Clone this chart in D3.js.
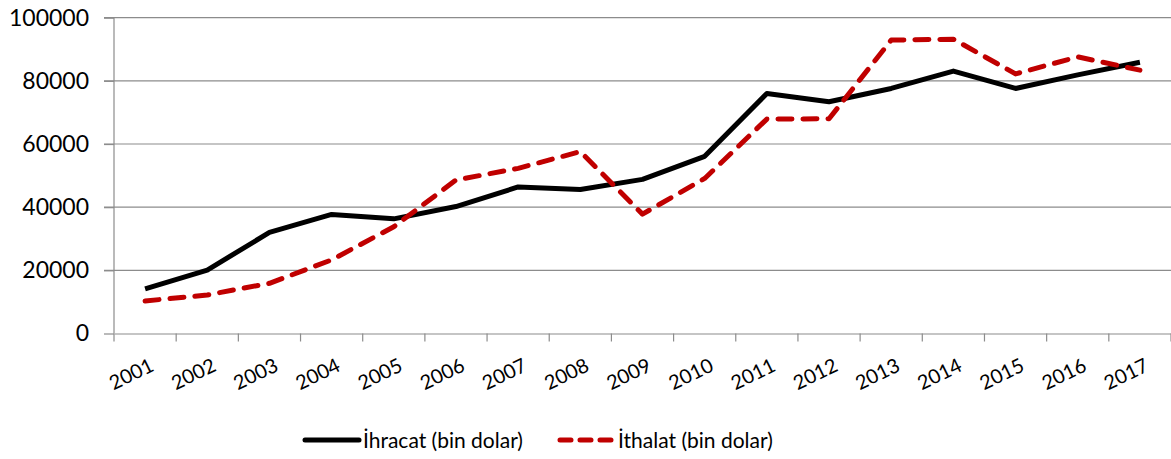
<!DOCTYPE html>
<html>
<head>
<meta charset="utf-8">
<style>
	body { margin: 0; background: #fff; }
	text { font-family: Lato, "Open Sans", sans-serif; fill: #000; }
</style>
</head>
<body>
<div id="chart"></div>
<script src="https://d3js.org/d3.v7.min.js"></script>
<script>
	var years = ["2001","2002","2003","2004","2005","2006","2007","2008","2009","2010","2011","2012","2013","2014","2015","2016","2017"];
	var ihracat = [14100, 20100, 32000, 37700, 36300, 40200, 46400, 45600, 48800, 56100, 76000, 73400, 77600, 83100, 77600, 81900, 85900];
	var ithalat = [10300, 12200, 15900, 23300, 33800, 48600, 52300, 57600, 37800, 49100, 67900, 68000, 92900, 93200, 82200, 87600, 83400];
	var yTicks = [0, 20000, 40000, 60000, 80000, 100000];
	var seriesNames = ["İhracat (bin dolar)", "İthalat (bin dolar)"];

	var W = 1171, H = 459;
	var margin = {top: 17.7, right: 0, bottom: 125.5, left: 114};
	var width = W - margin.left - margin.right,
		height = H - margin.top - margin.bottom;

	var svg = d3.select("#chart").append("svg")
		.attr("width", W)
		.attr("height", H);

	var g = svg.append("g")
		.attr("transform", "translate(" + margin.left + "," + margin.top + ")");

	var x = d3.scaleBand().domain(years).range([0, width]);
	var y = d3.scaleLinear().domain([0, 100000]).range([height, 0]);

	// gridlines
	g.selectAll(".grid")
		.data(yTicks.filter(function(d){ return d > 0; }))
		.enter().append("line")
		.attr("x1", -10).attr("x2", width)
		.attr("y1", function(d){ return y(d); })
		.attr("y2", function(d){ return y(d); })
		.attr("stroke", "#8c8c8c")
		.attr("stroke-width", 1.2);

	// y axis
	var yAxis = g.append("g")
		.call(d3.axisLeft(y).tickValues(yTicks).tickSize(10).tickPadding(15).tickFormat(d3.format("d")));
	yAxis.select(".domain").attr("stroke", "#8c8c8c").attr("stroke-width", 1.2).attr("d", "M0," + height + "V0");
	yAxis.selectAll(".tick line").attr("stroke", "#8c8c8c").attr("stroke-width", 1.2);
	yAxis.selectAll(".tick text").style("font-size", "23px").attr("fill", "#000");

	// x axis
	var xAxis = g.append("g")
		.attr("transform", "translate(0," + height + ")")
		.call(d3.axisBottom(x).tickSize(0).tickFormat(""));
	xAxis.select(".domain").attr("stroke", "#8c8c8c").attr("stroke-width", 1.2);
	xAxis.selectAll(".tick").remove();

	// category boundary ticks
	xAxis.selectAll(".bt")
		.data(years.concat(["end"]))
		.enter().append("line")
		.attr("x1", function(d, i){ return i * x.bandwidth(); })
		.attr("x2", function(d, i){ return i * x.bandwidth(); })
		.attr("y1", 0).attr("y2", 8)
		.attr("stroke", "#8c8c8c")
		.attr("stroke-width", 1.2);

	xAxis.selectAll(".xl")
		.data(years)
		.enter().append("text")
		.attr("transform", function(d){
			return "translate(" + (x(d) + x.bandwidth() / 2 + 4) + ",24) rotate(-26)";
		})
		.attr("text-anchor", "end")
		.attr("dy", "0.7em")
		.style("font-size", "20px")
		.text(function(d){ return d; });

	var line = d3.line()
		.x(function(d, i){ return x(years[i]) + x.bandwidth() / 2; })
		.y(function(d){ return y(d); });

	g.append("path")
		.datum(ihracat)
		.attr("d", line)
		.attr("fill", "none")
		.attr("stroke", "#000")
		.attr("stroke-width", 5)
		.attr("stroke-linejoin", "round");

	g.append("path")
		.datum(ithalat)
		.attr("d", line)
		.attr("fill", "none")
		.attr("stroke", "#c00000")
		.attr("stroke-width", 5)
		.attr("stroke-linecap", "round")
		.attr("stroke-linejoin", "round")
		.attr("stroke-dasharray", "14,11");

	// legend
	var legend = svg.append("g").attr("transform", "translate(0,440)");
	var legItems = [
		{name: seriesNames[0], x: 305, color: "#000", dash: null},
		{name: seriesNames[1], x: 560, color: "#c00000", dash: "11,9"}
	];
	legItems.forEach(function(it){
		legend.append("line")
			.attr("x1", it.x).attr("x2", it.x + 54)
			.attr("y1", 0).attr("y2", 0)
			.attr("stroke", it.color)
			.attr("stroke-width", 5)
			.attr("stroke-linecap", "round")
			.attr("stroke-dasharray", it.dash);
		legend.append("text")
			.attr("x", it.x + 58)
			.attr("y", 0)
			.attr("dy", "0.36em")
			.style("font-size", "21px")
			.text(it.name);
	});
</script>
</body>
</html>
